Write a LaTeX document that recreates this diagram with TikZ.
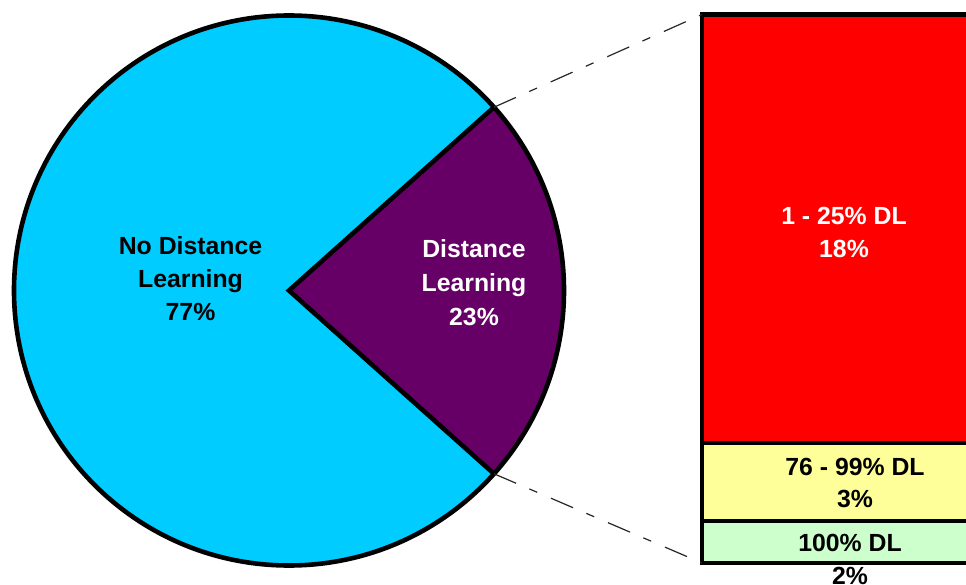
\documentclass[tikz,border=0pt]{standalone}
\usepackage{fontspec}
\setmainfont{Liberation Sans}
\usetikzlibrary{calc}
\definecolor{pieblue}{HTML}{00CCFF}
\definecolor{piepurple}{HTML}{660066}
\definecolor{barred}{HTML}{FF0000}
\definecolor{baryellow}{HTML}{FFFF99}
\definecolor{bargreen}{HTML}{CCFFCC}
\tikzset{
  lbl/.style={anchor=base, inner sep=0pt, font=\fontsize{24.8}{33}\selectfont\bfseries},
  outline/.style={draw=black, line width=4.6pt, line join=miter},
  leader/.style={draw=black!85, line width=1.2pt, dash pattern=on 24pt off 14.5pt on 8.5pt off 15pt},
}
\begin{document}
\begin{tikzpicture}[x=1pt,y=1pt]
\useasboundingbox (0,0) rectangle (966,-585);
\clip (0,0) rectangle (966,-585);
% pie
\coordinate (C) at (289,-290.5);
\coordinate (wTop) at ($(C)+(41.8:275)$);
\coordinate (wBot) at ($(C)+(-41.8:275)$);
\fill[pieblue] (C) circle[radius=275];
\fill[piepurple] (C) -- (wTop) arc[start angle=41.8, end angle=-41.8, radius=275] -- cycle;
\draw[outline] (C) circle[radius=275];
\draw[outline] (wTop) -- (C) -- (wBot);
% bar
\coordinate (bTL) at (702,-14.5);
\coordinate (bBL) at (702,-563);
\draw[outline, fill=barred] (702,-14.5) rectangle (990,-443);
\draw[outline, fill=baryellow] (702,-443) rectangle (990,-521);
\draw[outline, fill=bargreen] (702,-521) rectangle (990,-563);
% leader lines
\draw[leader] (wTop) -- (bTL);
\draw[leader] (wBot) -- (bBL);
% labels
\node[lbl] (nd1) at (190.5,-254.3) {No Distance};
\node[lbl] (nd2) at (190.5,-287.7) {Learning};
\node[lbl] (nd3) at (190.5,-320.5) {77\%};
\node[lbl, text=white] (dl1) at (474,-258) {Distance};
\node[lbl, text=white] (dl2) at (474,-291.5) {Learning};
\node[lbl, text=white] (dl3) at (474,-325) {23\%};
\node[lbl, text=white] (r1) at (844,-225) {1 - 25\% DL};
\node[lbl, text=white] (r2) at (844,-257.5) {18\%};
\node[lbl] (y1) at (855,-475) {76 - 99\% DL};
\node[lbl] (y2) at (855,-507.5) {3\%};
\node[lbl] (g1) at (850,-551) {100\% DL};
\node[lbl] (g2) at (850,-584) {2\%};
\end{tikzpicture}
\end{document}
